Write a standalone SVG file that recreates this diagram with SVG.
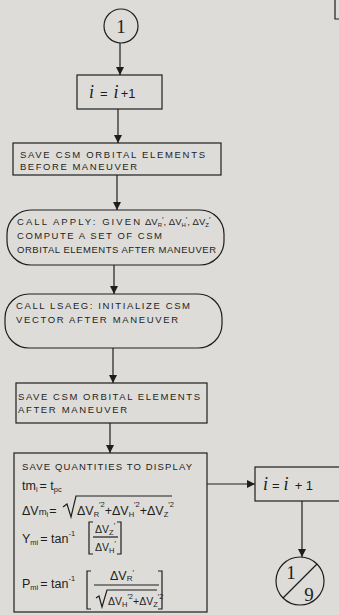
<svg xmlns="http://www.w3.org/2000/svg" width="339" height="615" viewBox="0 0 339 615">
  <defs>
    <marker id="arrow" viewBox="0 0 8 10" refX="8" refY="5" markerWidth="8" markerHeight="10" markerUnits="userSpaceOnUse" orient="auto">
      <path d="M0,1 L8,5 L0,9 Z" fill="#1e1e1e"/>
    </marker>
    <style>
      .ln { fill: none; stroke: #1e1e1e; stroke-width: 1.2; }
      .box { fill: none; stroke: #1e1e1e; stroke-width: 1.2; }
      .cap { font-family: "Liberation Sans", Arial, sans-serif; font-size: 9.5px; fill: #1e1e1e; }
      .m { font-family: "Liberation Sans", Arial, sans-serif; font-size: 12.5px; fill: #1e1e1e; }
      .md { font-family: "Liberation Sans", Arial, sans-serif; font-size: 10.5px; fill: #1e1e1e; }
      .ms { font-family: "Liberation Sans", Arial, sans-serif; font-size: 7.5px; fill: #1e1e1e; }
      .sc { font-family: "Liberation Serif", "Times New Roman", serif; font-style: italic; font-size: 18px; fill: #1e1e1e; }
      .op { font-family: "Liberation Sans", Arial, sans-serif; font-style: normal; font-size: 13px; }
      .num { font-family: "Liberation Serif", "Times New Roman", serif; font-size: 19px; fill: #1e1e1e; }
    </style>
  </defs>

  <rect width="339" height="615" fill="#dddcd8"/>

  <!-- partial frame at upper right -->
  <path class="ln" d="M335,0 V19 H339"/>

  <!-- connectors -->
  <g id="connectors">
    <line class="ln" x1="120" y1="43" x2="120" y2="75" marker-end="url(#arrow)"/>
    <line class="ln" x1="118" y1="109" x2="118" y2="143" marker-end="url(#arrow)"/>
    <line class="ln" x1="117" y1="175" x2="117" y2="210" marker-end="url(#arrow)"/>
    <line class="ln" x1="114" y1="265" x2="114" y2="294" marker-end="url(#arrow)"/>
    <line class="ln" x1="113" y1="348" x2="113" y2="383" marker-end="url(#arrow)"/>
    <line class="ln" x1="110" y1="423" x2="110" y2="453" marker-end="url(#arrow)"/>
    <line class="ln" x1="207" y1="484" x2="255" y2="484" marker-end="url(#arrow)"/>
    <line class="ln" x1="302" y1="501" x2="302" y2="557" marker-end="url(#arrow)"/>
  </g>

  <!-- entry connector 1 -->
  <g id="connector-1">
    <circle class="box" cx="121" cy="26" r="17"/>
    <text class="num" x="121" y="33" text-anchor="middle">1</text>
  </g>

  <!-- increment i -->
  <g id="increment-top">
    <rect class="box" x="77" y="75" width="85" height="34"/>
    <text class="sc" x="89" y="98">i<tspan class="op" dx="6">=</tspan><tspan dx="6">i</tspan><tspan class="op" dx="2">+1</tspan></text>
  </g>

  <!-- save elements before maneuver -->
  <g id="save-before">
    <rect class="box" x="13" y="143" width="208" height="32"/>
    <text class="cap" x="20" y="158" textLength="185" lengthAdjust="spacing">SAVE CSM ORBITAL ELEMENTS</text>
    <text class="cap" x="20" y="170" textLength="117" lengthAdjust="spacing">BEFORE MANEUVER</text>
  </g>

  <!-- call APPLY -->
  <g id="call-apply">
    <rect class="box" x="7" y="210" width="217" height="55" rx="24" ry="24"/>
    <text class="cap" x="17" y="225" textLength="123" lengthAdjust="spacing">CALL APPLY: GIVEN</text>
    <text class="cap" x="145" y="225">ΔV<tspan font-size="6" dy="2">R</tspan><tspan font-size="8" dy="-5">′</tspan><tspan dy="3">, ΔV</tspan><tspan font-size="6" dy="2">H</tspan><tspan font-size="8" dy="-5">′</tspan><tspan dy="3">, ΔV</tspan><tspan font-size="6" dy="2">Z</tspan><tspan font-size="8" dy="-5">′</tspan></text>
    <text class="cap" x="17" y="239" textLength="145" lengthAdjust="spacing">COMPUTE A SET OF CSM</text>
    <text class="cap" x="17" y="253" textLength="199" lengthAdjust="spacing">ORBITAL ELEMENTS AFTER MANEUVER</text>
  </g>

  <!-- call LSAEG -->
  <g id="call-lsaeg">
    <rect class="box" x="5" y="294" width="217" height="54" rx="24" ry="24"/>
    <text class="cap" x="16" y="309" textLength="174" lengthAdjust="spacing">CALL LSAEG: INITIALIZE CSM</text>
    <text class="cap" x="16" y="323" textLength="162" lengthAdjust="spacing">VECTOR AFTER MANEUVER</text>
  </g>

  <!-- save elements after maneuver -->
  <g id="save-after">
    <rect class="box" x="16" y="383" width="191" height="40"/>
    <text class="cap" x="18" y="400" textLength="182" lengthAdjust="spacing">SAVE CSM ORBITAL ELEMENTS</text>
    <text class="cap" x="18" y="413" textLength="109" lengthAdjust="spacing">AFTER MANEUVER</text>
  </g>

  <!-- save display quantities -->
  <g id="save-display">
    <rect class="box" x="14" y="453" width="193" height="159"/>
    <text class="cap" x="22" y="470" textLength="170" lengthAdjust="spacing">SAVE QUANTITIES TO DISPLAY</text>

    <!-- tm_i = t_pc -->
    <text class="m" x="22" y="490">tm<tspan class="ms" dy="2">i</tspan><tspan dy="-2" dx="2">= t</tspan><tspan class="ms" dy="2">pc</tspan></text>

    <!-- delta V magnitude -->
    <text class="m" x="22" y="515">ΔV<tspan font-size="9.5">m</tspan><tspan class="ms" dy="2">i</tspan><tspan dy="-2" dx="1">=</tspan></text>
    <path class="ln" d="M63,507 L67,504 L71,517 L76,496 H172"/>
    <text class="m" x="77" y="515">ΔV<tspan class="ms" font-size="6" dy="2">R</tspan><tspan class="ms" dy="-10">′2</tspan><tspan dy="8">+ΔV</tspan><tspan class="ms" font-size="6" dy="2">H</tspan><tspan class="ms" dy="-10">′2</tspan><tspan dy="8">+ΔV</tspan><tspan class="ms" font-size="6" dy="2">Z</tspan><tspan class="ms" dy="-10">′2</tspan></text>

    <!-- yaw -->
    <text class="m" x="22" y="543">Y<tspan class="ms" dy="2">mi</tspan><tspan dy="-2" dx="2">= tan</tspan><tspan class="ms" dy="-7">-1</tspan></text>
    <path class="ln" d="M93,522 H89 V554 H93"/>
    <path class="ln" d="M117,522 H121 V554 H117"/>
    <line class="ln" x1="93" y1="537" x2="118" y2="537"/>
    <text class="md" x="95" y="533">ΔV<tspan class="ms" font-size="5.5" dy="2">Z</tspan><tspan class="ms" dy="-7">′</tspan></text>
    <text class="md" x="95" y="551">ΔV<tspan class="ms" font-size="5.5" dy="2">H</tspan><tspan class="ms" dy="-7">′</tspan></text>

    <!-- pitch -->
    <text class="m" x="22" y="588">P<tspan class="ms" dy="2">mi</tspan><tspan dy="-2" dx="2">= tan</tspan><tspan class="ms" dy="-7">-1</tspan></text>
    <path class="ln" d="M91,571 H87 V609 H91"/>
    <path class="ln" d="M158,571 H162 V609 H158"/>
    <line class="ln" x1="94" y1="585" x2="159" y2="585"/>
    <text class="m" x="110" y="580">ΔV<tspan font-size="8" dy="1">R</tspan><tspan class="ms" dy="-6">′</tspan></text>
    <path class="ln" d="M96,598 L99,596 L102,607 L107,590 H157"/>
    <text class="md" x="108" y="605">ΔV<tspan class="ms" font-size="5" dy="2">H</tspan><tspan class="ms" font-size="6.5" dy="-8">′2</tspan><tspan dy="6">+ΔV</tspan><tspan class="ms" font-size="5" dy="2">Z</tspan><tspan class="ms" font-size="6.5" dy="-8">′2</tspan></text>
  </g>

  <!-- increment i (second) -->
  <g id="increment-right">
    <rect class="box" x="255" y="467" width="90" height="34"/>
    <text class="sc" x="263" y="490">i<tspan class="op" dx="4">=</tspan><tspan dx="4">i</tspan><tspan class="op" dx="6">+ 1</tspan></text>
  </g>

  <!-- off-page connector 1/9 -->
  <g id="connector-1-9">
    <circle class="box" cx="300" cy="581" r="24"/>
    <line class="ln" x1="283" y1="598" x2="317" y2="564"/>
    <text class="num" x="291" y="579" text-anchor="middle">1</text>
    <text class="num" x="309" y="601" text-anchor="middle">9</text>
  </g>
</svg>
